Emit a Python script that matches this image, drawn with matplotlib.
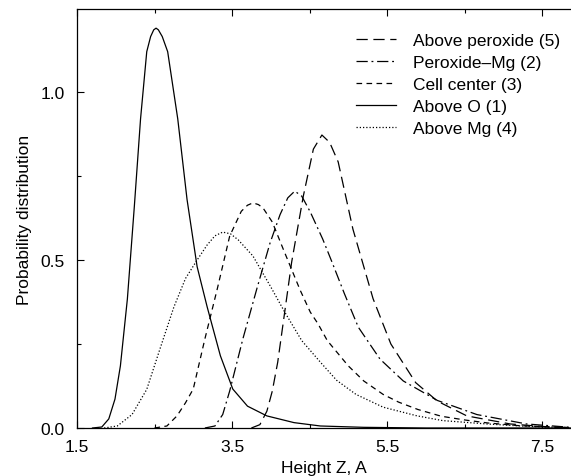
import matplotlib
matplotlib.use("Agg")
import matplotlib.pyplot as plt
from matplotlib.ticker import FixedLocator

plt.rcParams['font.family'] = ['Liberation Sans', 'DejaVu Sans']

# --- data ---
above_o_x = [1.70, 1.82, 1.91, 1.99, 2.06, 2.15, 2.24, 2.32, 2.40, 2.45, 2.49, 2.52, 2.55, 2.60, 2.67,
             2.80, 2.92, 3.05, 3.18, 3.35, 3.51, 3.70, 3.95, 4.30, 4.64, 5.20, 6.00, 7.00, 7.87]
above_o_y = [0.0, 0.003, 0.027, 0.086, 0.185, 0.384, 0.66, 0.92, 1.12, 1.165, 1.185, 1.19, 1.185, 1.165, 1.12,
             0.92, 0.68, 0.48, 0.36, 0.215, 0.116, 0.065, 0.036, 0.016, 0.006, 0.002, 0.0, 0.0, 0.0]

above_mg_x = [1.85, 2.02, 2.21, 2.40, 2.57, 2.75, 2.90, 3.05, 3.18, 3.28, 3.38, 3.48, 3.58, 3.77,
              4.00, 4.18, 4.40, 4.64, 4.85, 5.10, 5.45, 5.89, 6.22, 6.79, 7.30, 7.87]
above_mg_y = [0.0, 0.006, 0.04, 0.115, 0.235, 0.36, 0.445, 0.50, 0.545, 0.572, 0.583, 0.578, 0.56, 0.512,
              0.42, 0.345, 0.26, 0.196, 0.142, 0.10, 0.062, 0.036, 0.022, 0.012, 0.005, 0.001]

cell_x = [2.50, 2.66, 2.79, 2.90, 3.00, 3.15, 3.31, 3.47, 3.62, 3.70, 3.77, 3.84, 3.90, 4.02, 4.16,
          4.38, 4.51, 4.61, 4.73, 5.00, 5.20, 5.45, 5.65, 5.90, 6.20, 6.50, 6.80, 7.20, 7.87]
cell_y = [0.0, 0.006, 0.036, 0.075, 0.116, 0.265, 0.414, 0.571, 0.645, 0.663, 0.670, 0.665, 0.655, 0.613, 0.533,
          0.41, 0.345, 0.31, 0.26, 0.185, 0.14, 0.10, 0.077, 0.055, 0.035, 0.024, 0.015, 0.007, 0.001]

perox_mg_x = [3.15, 3.28, 3.38, 3.47, 3.64, 3.82, 3.99, 4.12, 4.22, 4.31, 4.40, 4.51, 4.67, 4.79,
              4.95, 5.13, 5.41, 5.71, 6.15, 6.66, 7.30, 7.87]
perox_mg_y = [0.0, 0.006, 0.04, 0.11, 0.265, 0.414, 0.55, 0.635, 0.685, 0.705, 0.69, 0.643, 0.5625, 0.494,
              0.40, 0.30, 0.205, 0.140, 0.082, 0.040, 0.012, 0.002]

above_perox_x = [3.75, 3.86, 3.95, 4.02, 4.09, 4.18, 4.27, 4.42, 4.55, 4.66, 4.76, 4.87, 5.06, 5.32,
                 5.55, 5.87, 6.15, 6.53, 7.09, 7.60, 7.87]
above_perox_y = [0.0, 0.01, 0.05, 0.11, 0.196, 0.345, 0.494, 0.69, 0.83, 0.872, 0.85, 0.792, 0.592, 0.385,
                 0.25, 0.135, 0.08, 0.036, 0.012, 0.003, 0.001]

labels = ["Above peroxide (5)", "Peroxide\u2013Mg (2)", "Cell center (3)", "Above O (1)", "Above Mg (4)"]
x_ticks = [1.5, 3.5, 5.5, 7.5]
x_tick_labels = ["1.5", "3.5", "5.5", "7.5"]
y_ticks = [0.0, 0.5, 1.0]
y_tick_labels = ["0.0", "0.5", "1.0"]

fig = plt.figure(figsize=(5.71, 4.77), dpi=100)
ax = fig.add_axes([77/571, 1 - 429/477, 494/571, 419/477])

lw = 0.9
ax.plot(above_perox_x, above_perox_y, color='black', lw=lw, dashes=(9, 4.5), label=labels[0])
ax.plot(perox_mg_x, perox_mg_y, color='black', lw=lw, dashes=(9, 3, 1.5, 3), label=labels[1])
ax.plot(cell_x, cell_y, color='black', lw=lw, dashes=(4.5, 3.5), label=labels[2])
ax.plot(above_o_x, above_o_y, color='black', lw=lw, label=labels[3])
ax.plot(above_mg_x, above_mg_y, color='black', lw=lw, dashes=(1, 1.6), label=labels[4])

ax.set_xlim(1.5, 1.5 + 494/77.5)
ax.set_ylim(0, 419/336)

ax.xaxis.set_major_locator(FixedLocator(x_ticks))
ax.set_xticklabels(x_tick_labels)
ax.xaxis.set_minor_locator(FixedLocator([2.5, 4.5, 6.5]))
ax.yaxis.set_major_locator(FixedLocator(y_ticks))
ax.set_yticklabels(y_tick_labels)
ax.yaxis.set_minor_locator(FixedLocator([0.25, 0.75]))

ax.tick_params(which='both', direction='in', top=True, right=False, labelsize=12.5,
               width=0.8, colors='black')
ax.tick_params(which='major', length=5)
ax.tick_params(which='minor', length=3)
ax.tick_params(axis='x', pad=8)
ax.tick_params(axis='y', pad=9)

ax.spines['right'].set_visible(False)
for s in ['left', 'top', 'bottom']:
    ax.spines[s].set_linewidth(0.9)

ax.set_xlabel("Height Z, A", fontsize=12.5, labelpad=4)
ax.set_ylabel("Probability distribution", fontsize=12.5, labelpad=6)

leg = ax.legend(loc='upper right', bbox_to_anchor=(1.0, 0.968), frameon=False, fontsize=12.5,
                handlelength=2.3, handletextpad=1.0, labelspacing=0.40, borderaxespad=0.2)

fig.savefig("out.png", dpi=100)
